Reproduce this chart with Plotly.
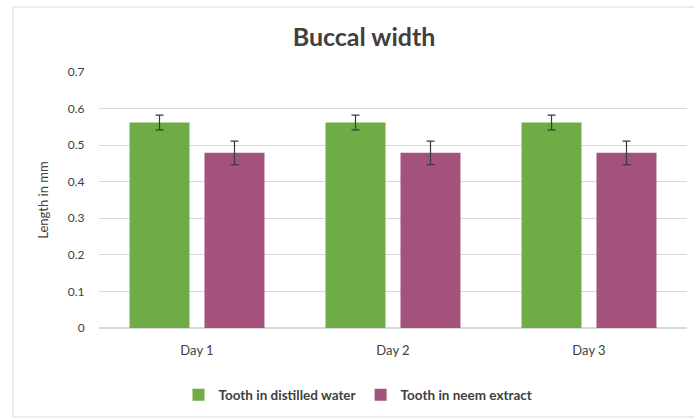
import plotly.graph_objects as go

categories = ["Day 1", "Day 2", "Day 3"]
water = [0.562, 0.562, 0.562]
water_err = [0.02, 0.02, 0.02]
neem = [0.479, 0.479, 0.479]
neem_err = [0.032, 0.032, 0.032]
yticks = [0, 0.1, 0.2, 0.3, 0.4, 0.5, 0.6, 0.7]
yticklabels = ["0", "0.1", "0.2", "0.3", "0.4", "0.5", "0.6", "0.7"]

font = "Lato, 'Open Sans', sans-serif"
txt = "#404040"
fig = go.Figure()
fig.add_trace(go.Bar(x=categories, y=water, name="Tooth in distilled water",
                     marker=dict(color="#6fac46", line=dict(width=0)),
                     error_y=dict(type="data", array=water_err, color="#3a3a3a", thickness=1.2, width=4)))
fig.add_trace(go.Bar(x=categories, y=neem, name="Tooth in neem extract",
                     marker=dict(color="#a4517b", line=dict(width=0)),
                     error_y=dict(type="data", array=neem_err, color="#3a3a3a", thickness=1.2, width=4)))

L, R, T, B = 99, 7, 72, 91
W, H = 694, 419
pw, ph = W - L - R, H - T - B
def px(x): return (x - L) / pw
def py(y): return (H - B - y) / ph

fig.update_layout(
    width=W, height=H,
    margin=dict(l=L, r=R, t=T, b=B),
    paper_bgcolor="white", plot_bgcolor="white",
    barmode="group", bargap=0.235, bargroupgap=0.2,
    font=dict(family=font, color=txt, size=11),
    title=dict(text="<b>Buccal width</b>", x=px(364), xanchor="center", xref="paper",
               y=1 - 37 / H, yanchor="middle", font=dict(size=25, color=txt, family=font)),
    xaxis=dict(showline=False, ticks="outside", ticklen=10, tickcolor="rgba(0,0,0,0)",
               tickfont=dict(size=13, color=txt), showgrid=False),
    yaxis=dict(range=[0, 0.7], tickvals=yticks, ticktext=yticklabels, showgrid=True,
               gridcolor="#d9d9d9", gridwidth=1, zeroline=True, zerolinecolor="#d9d9d9",
               showline=False, ticks="outside", ticklen=11, tickcolor="rgba(0,0,0,0)",
               tickfont=dict(size=12, color=txt),
               title=dict(text="Length in mm", font=dict(size=13, color=txt), standoff=16)),
    legend=dict(orientation="h", x=px(358), xanchor="center", y=py(395), yanchor="middle",
                font=dict(size=13.5, color=txt, weight="bold"), itemwidth=30, tracegroupgap=0),
    shapes=[dict(type="rect", xref="paper", yref="paper", x0=px(13), x1=px(700), y0=py(417), y1=py(7),
                 line=dict(color="#d9d9d9", width=1), fillcolor="rgba(0,0,0,0)", layer="below")],
)
fig.write_html("out.html")
